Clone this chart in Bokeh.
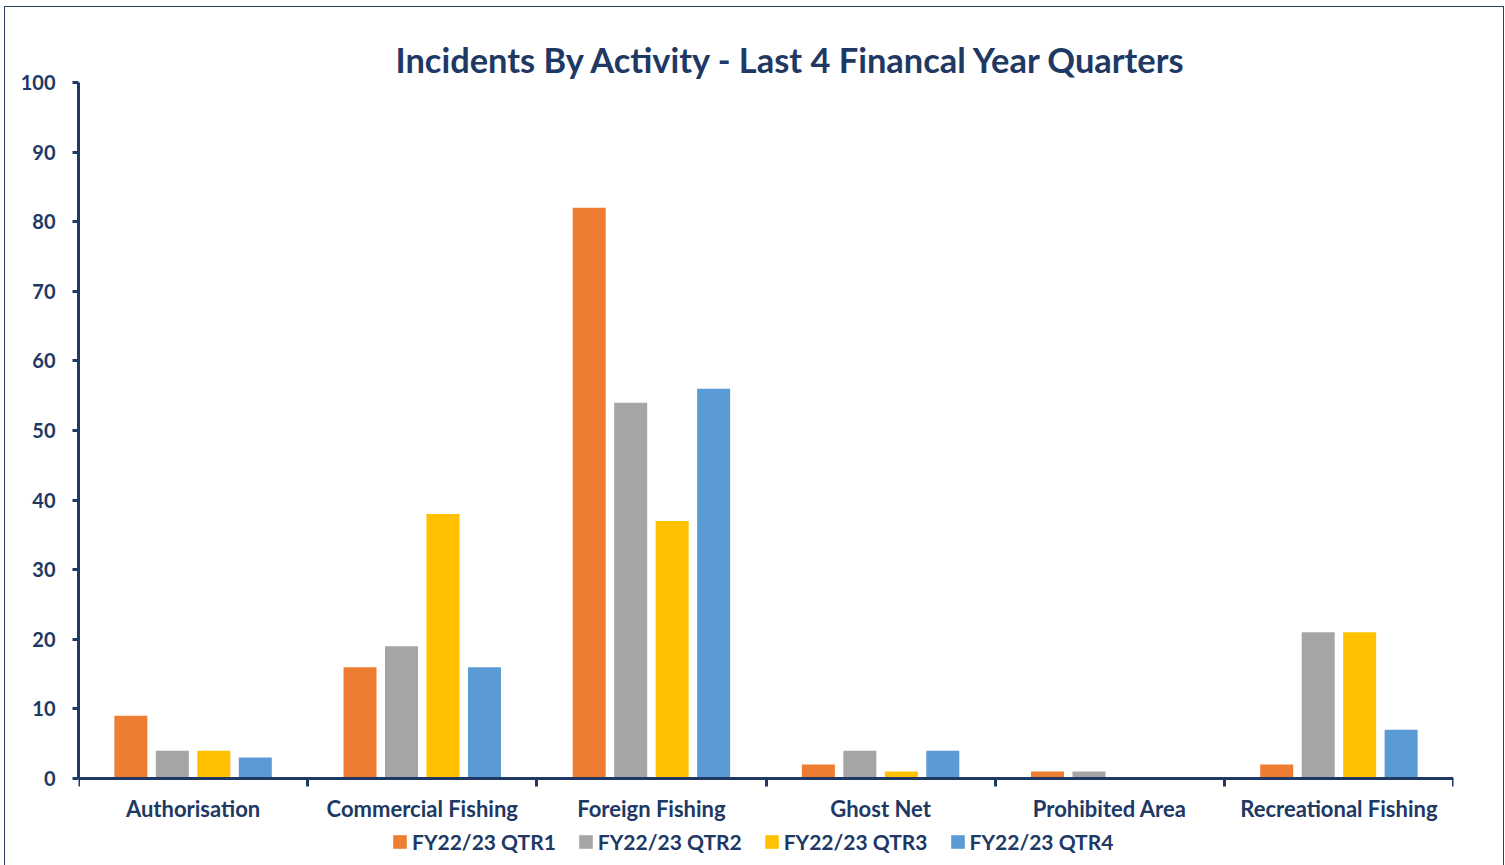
from bokeh.plotting import figure
from bokeh.models import (Range1d, FixedTicker, LinearAxis, Legend, LegendItem,
                          ColumnDataSource)
from bokeh.transform import dodge
from bokeh.embed import file_html
from bokeh.resources import INLINE

categories = ["Authorisation", "Commercial Fishing", "Foreign Fishing",
              "Ghost Net", "Prohibited Area", "Recreational Fishing"]
series_names = ["FY22/23 QTR1", "FY22/23 QTR2", "FY22/23 QTR3", "FY22/23 QTR4"]
qtr1 = [9, 16, 82, 2, 1, 2]
qtr2 = [4, 19, 54, 4, 1, 21]
qtr3 = [4, 38, 37, 1, 0, 21]
qtr4 = [3, 16, 56, 4, 0, 7]
y_ticks = [0, 10, 20, 30, 40, 50, 60, 70, 80, 90, 100]
title_text = "Incidents By Activity - Last 4 Financal Year Quarters"

colors = ["#ED7D31", "#A5A5A5", "#FFC000", "#5B9BD5"]
navy = "#203864"
FONT = "Lato"

centers = [i + 0.5 for i in range(len(categories))]
bounds = [i for i in range(len(categories) + 1)]

source = ColumnDataSource(dict(x=centers, q1=qtr1, q2=qtr2, q3=qtr3, q4=qtr4))

# frame extends below the zero line so the category labels and legend
# can sit inside the canvas area (y from -12.5 to 100)
p = figure(frame_width=1375, frame_height=783, x_range=Range1d(0, len(categories)),
           y_range=Range1d(-12.5, 100), output_backend="svg", toolbar_location=None,
           x_axis_type=None, y_axis_type=None,
           min_border_left=73, min_border_right=50, min_border_top=75,
           min_border_bottom=0, margin=(7, 0, 0, 5))
p.styles = {"outline": "1.5px solid #2F3E5E"}
p.outline_line_color = None
p.xgrid.visible = False
p.ygrid.visible = False
p.background_fill_color = "white"
p.border_fill_color = "white"

p.title.text = title_text
p.title.align = "left"
p.title.offset = 317
p.title.text_font = FONT
p.title.text_font_style = "bold"
p.title.text_font_size = "34.4px"
p.title.text_color = navy
p.title.standoff = 6

offsets = [-0.2715, -0.0905, 0.0905, 0.2715]
keys = ["q1", "q2", "q3", "q4"]
renderers = []
for k, off, c in zip(keys, offsets, colors):
    r = p.vbar(x=dodge("x", off, range=p.x_range), top=k, width=0.144,
               source=source, fill_color=c, line_color=None)
    renderers.append(r)

yaxis = LinearAxis(ticker=FixedTicker(ticks=y_ticks), bounds=(0, 100))
yaxis.axis_line_color = navy
yaxis.axis_line_width = 3
yaxis.major_tick_line_color = navy
yaxis.major_tick_line_width = 3
yaxis.major_tick_out = 6
yaxis.major_tick_in = 0
yaxis.minor_tick_line_color = None
yaxis.major_label_text_font = FONT
yaxis.major_label_text_font_style = "bold"
yaxis.major_label_text_font_size = "20px"
yaxis.major_label_text_color = navy
yaxis.major_label_standoff = 17
p.add_layout(yaxis, "left")

xaxis = LinearAxis(ticker=FixedTicker(ticks=centers, minor_ticks=bounds),
                   major_label_overrides={c: n for c, n in zip(centers, categories)},
                   fixed_location=0)
xaxis.axis_line_color = navy
xaxis.axis_line_width = 3
xaxis.major_tick_line_color = None
xaxis.major_tick_out = 0
xaxis.major_tick_in = 0
xaxis.minor_tick_line_color = navy
xaxis.minor_tick_line_width = 3
xaxis.minor_tick_out = 8
xaxis.minor_tick_in = 0
xaxis.major_label_text_font = FONT
xaxis.major_label_text_font_style = "bold"
xaxis.major_label_text_font_size = "22px"
xaxis.major_label_text_color = navy
xaxis.major_label_standoff = 8
p.add_layout(xaxis, "below")

legend = Legend(items=[LegendItem(label=n, renderers=[r]) for n, r in zip(series_names, renderers)],
                orientation="horizontal", location=(313, 11),
                glyph_width=17, glyph_height=17, label_standoff=4, spacing=21,
                padding=0, margin=0, border_line_color=None, background_fill_alpha=0,
                label_text_font=FONT, label_text_font_style="bold",
                label_text_font_size="21px", label_text_color=navy,
                label_height=20)
p.add_layout(legend, "center")

open("out.html", "w").write(file_html(p, INLINE))
